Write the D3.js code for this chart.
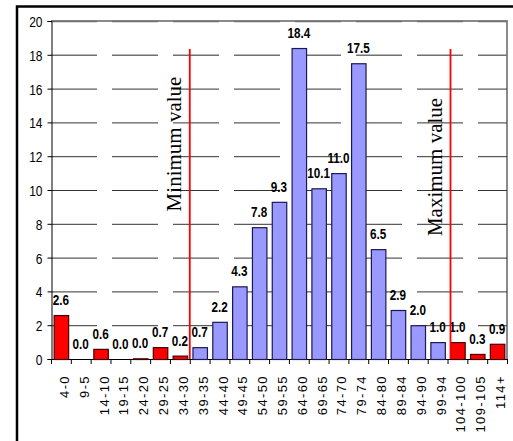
<!DOCTYPE html>
<html>
<head>
<meta charset="utf-8">
<script src="https://cdn.jsdelivr.net/npm/d3@7"></script>
<style>
  html, body { margin: 0; padding: 0; background: #fff; }
  svg { display: block; }
</style>
</head>
<body>
<svg id="chart" width="513" height="441"></svg>
<script>
const categories = ["4-0","9-5","14-10","19-15","24-20","29-25","34-30","39-35","44-40","49-45","54-50","59-55","64-60","69-65","74-70","79-74","84-80","89-84","94-90","99-94","104-100","109-105","114+"];
const values = [2.6, 0.0, 0.6, 0.0, 0.04, 0.7, 0.2, 0.7, 2.2, 4.3, 7.8, 9.3, 18.4, 10.1, 11.0, 17.5, 6.5, 2.9, 2.0, 1.0, 1.0, 0.3, 0.9];
const yTicks = [0, 2, 4, 6, 8, 10, 12, 14, 16, 18, 20];
const minIndex = 7;   // first category inside the range
const maxIndex = 20;  // first category above the range
const markers = [
  { label: "Minimum value", index: minIndex, offset: 0.0 },
  { label: "Maximum value", index: maxIndex, offset: 0.15 }
];

const svg = d3.select("#chart");
const pLeft = 51, pRight = 507, pTop = 21, pBottom = 359;
const sans = "Arial, 'Liberation Sans', sans-serif";

const x = d3.scaleBand().domain(categories).range([pLeft, pRight]).paddingInner(0.27).paddingOuter(0.135);
const step = x.step();
const y = d3.scaleLinear().domain([0, 20]).range([pBottom, pTop]);

// outer frame (left and top)
svg.append("path")
  .attr("d", `M17,441 V6.5 H513`)
  .attr("fill", "none").attr("stroke", "#000").attr("stroke-width", 2.5);

// plot border (top + right), gray
svg.append("path")
  .attr("d", `M${pLeft},${y(20)} H${pRight} V${pBottom}`)
  .attr("fill", "none").attr("stroke", "#8a8a8a").attr("stroke-width", 2);

// gridlines
svg.append("g").selectAll("line").data(yTicks.filter(d => d > 0)).join("line")
  .attr("x1", pLeft).attr("x2", pRight)
  .attr("y1", d => y(d) + 0.5).attr("y2", d => y(d) + 0.5)
  .attr("stroke", d => d >= 18 ? "#707070" : "#333")
  .attr("stroke-width", d => d >= 18 ? 1.6 : 1)
  .attr("stroke-dasharray", "46,15");

// y axis
const yAxis = d3.axisLeft(y).tickValues(yTicks).tickSize(4).tickPadding(5).tickFormat(d3.format("d"));
const gy = svg.append("g").attr("transform", `translate(${pLeft + 0.5},0)`).call(yAxis);
gy.select(".domain").attr("stroke", "#000");
gy.selectAll(".tick line").attr("stroke", "#000");
gy.selectAll(".tick text").remove();
gy.selectAll(".tick").append("text")
  .attr("transform", "translate(-9,0) scale(0.8,1)")
  .attr("dy", "0.36em")
  .attr("text-anchor", "end")
  .attr("font-family", sans)
  .attr("font-size", 15).attr("fill", "#000")
  .text(d => d3.format("d")(d));

// x axis baseline and ticks at category boundaries
svg.append("line").attr("x1", pLeft).attr("x2", pRight)
  .attr("y1", pBottom + 0.5).attr("y2", pBottom + 0.5).attr("stroke", "#000");
const bounds = d3.range(categories.length + 1).map(i => pLeft + i * step);
svg.append("g").selectAll("line").data(bounds).join("line")
  .attr("x1", d => d + 0.5).attr("x2", d => d + 0.5)
  .attr("y1", pBottom).attr("y2", pBottom + 5).attr("stroke", "#000");

// x labels
svg.append("g").selectAll("text").data(categories).join("text")
  .attr("transform", d => `translate(${x(d) + x.bandwidth() / 2 + 8},375) rotate(-90)`)
  .attr("text-anchor", "end")
  .attr("font-family", sans)
  .attr("font-size", 13)
  .attr("letter-spacing", 1.4)
  .attr("fill", "#000")
  .text(d => d);

// bars
const inRange = i => i >= minIndex && i < maxIndex;
const rows = categories.map((c, i) => ({ c, v: values[i], i }));
svg.append("g").selectAll("rect").data(rows.filter(d => d.v > 0)).join("rect")
  .attr("x", d => x(d.c) + 0.5)
  .attr("y", d => y(d.v) + 0.5)
  .attr("width", x.bandwidth())
  .attr("height", d => Math.max(0, y(0) - y(d.v)))
  .attr("fill", d => inRange(d.i) ? "#9999ff" : "#ff0000")
  .attr("stroke", d => inRange(d.i) ? "#1a1a50" : "#400000")
  .attr("stroke-width", 1.2);

// value labels
svg.append("g").selectAll("text").data(rows).join("text")
  .attr("transform", d => `translate(${x(d.c) + x.bandwidth() / 2},${y(d.v) - 10}) scale(0.78,1)`)
  .attr("text-anchor", "middle")
  .attr("font-family", sans)
  .attr("font-weight", "bold")
  .attr("font-size", 15)
  .attr("fill", "#000")
  .text(d => d.v.toFixed(1));

// marker lines and labels
const mg = svg.append("g");
markers.forEach(m => {
  const mx = pLeft + (m.index + m.offset) * step;
  mg.append("line").attr("x1", mx).attr("x2", mx)
    .attr("y1", 49).attr("y2", pBottom)
    .attr("stroke", "#ff0000").attr("stroke-width", 1.8);
  mg.append("text")
    .attr("transform", `translate(${mx - 8.5},${m.index === minIndex ? 144 : 167}) rotate(-90)`)
    .attr("text-anchor", "middle")
    .attr("font-family", "'Liberation Serif', 'Times New Roman', serif")
    .attr("font-size", 21)
    .attr("fill", "#000")
    .text(m.label);
});
</script>
</body>
</html>
